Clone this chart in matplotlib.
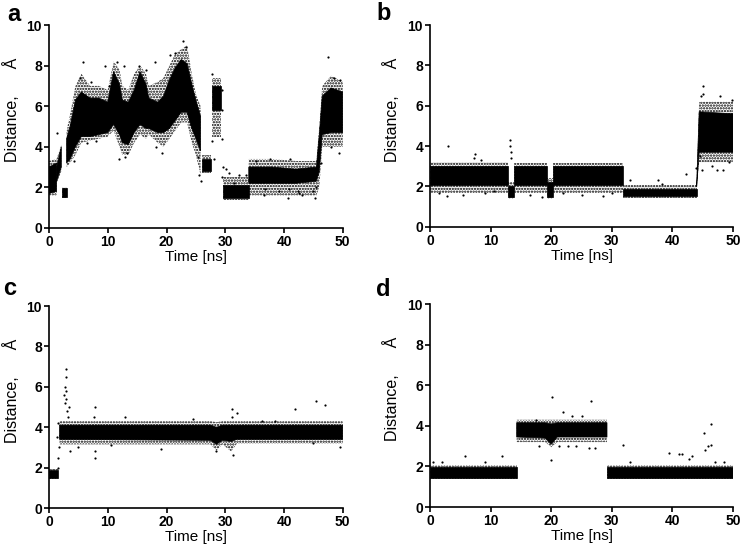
import matplotlib.pyplot as plt
import numpy as np

plt.rcParams["font.family"] = ["Liberation Sans", "DejaVu Sans"]
plt.rcParams["hatch.linewidth"] = 1.1

nan = np.nan

# time [ns] with the outer reach (sparse points) and the dense core of each cloud
a_t = [0.0, 1.3, nan, 1.3, 2.1, nan, 2.3, 3.0, nan, 3.0, 3.6, 4.5, 5.5, 7.0, 8.5, 10.0, 11.0, 12.0, 12.5, 13.5,
       14.5, 15.5, 16.5, 17.0, 18.5, 19.5, 20.5, 21.5, 22.5, 23.5, 24.3, 25.0, 25.8, nan, 26.0, 27.5, nan,
       27.8, 29.2, nan, 29.6, 34.0, nan, 34.0, 38.0, 42.0, 45.5, 46.0, 46.5, 48.0, 50.0]
a_out_lo = [1.6, 1.6, nan, 2.2, 2.8, nan, 1.5, 1.5, nan, 3.0, 3.2, 3.6, 4.2, 4.3, 4.4, 4.5, 4.8, 4.0, 3.6, 3.6,
            4.2, 4.6, 4.4, 4.6, 4.2, 4.0, 4.4, 4.8, 5.2, 5.2, 4.2, 3.6, 2.6, nan, 2.7, 2.7, nan,
            4.5, 4.5, nan, 1.4, 1.4, nan, 1.6, 1.6, 1.6, 1.6, 2.0, 4.0, 4.0, 4.0]
a_lo = [1.7, 1.8, nan, 2.3, 3.0, nan, 1.55, 1.55, nan, 3.2, 3.4, 4.0, 4.5, 4.5, 4.6, 4.7, 5.1, 4.6, 4.2, 4.1,
        4.7, 5.1, 4.9, 4.9, 4.7, 4.7, 4.9, 5.3, 5.7, 5.7, 4.9, 4.4, 3.8, nan, 2.8, 2.8, nan,
        5.8, 5.8, nan, 1.5, 1.5, nan, 2.2, 2.2, 2.2, 2.3, 2.8, 4.6, 4.7, 4.7]
a_hi = [3.0, 3.2, nan, 3.0, 4.0, nan, 1.95, 1.95, nan, 4.4, 5.0, 6.3, 6.7, 6.4, 6.4, 6.2, 7.7, 7.1, 6.3, 6.2,
        6.8, 7.7, 7.1, 6.4, 6.2, 6.5, 7.3, 7.9, 8.3, 8.1, 7.1, 6.3, 5.5, nan, 3.4, 3.4, nan,
        7.0, 7.0, nan, 2.1, 2.1, nan, 3.0, 3.0, 2.9, 3.0, 4.6, 6.5, 6.9, 6.7]
a_out_hi = [3.3, 3.4, nan, 3.4, 4.1, nan, 2.0, 2.0, nan, 4.8, 5.6, 7.0, 7.6, 7.0, 7.0, 6.8, 8.2, 7.8, 7.0, 6.8,
            7.6, 8.0, 7.6, 7.0, 7.2, 7.4, 8.0, 8.6, 8.8, 9.0, 7.6, 6.6, 6.0, nan, 3.6, 3.6, nan,
            7.4, 7.4, nan, 2.5, 2.5, nan, 3.4, 3.4, 3.3, 3.3, 5.0, 7.0, 7.5, 7.2]

b_t = [0.0, 12.8, nan, 12.8, 13.8, nan, 13.8, 19.3, nan, 19.3, 20.3, nan, 20.3, 31.9, nan, 31.9, 44.0, nan,
       44.0, 44.4, 50.0]
b_out_lo = [1.7, 1.7, nan, 1.4, 1.4, nan, 1.7, 1.7, nan, 1.4, 1.4, nan, 1.7, 1.7, nan, 1.45, 1.45, nan,
            1.9, 3.2, 3.2]
b_lo = [2.05, 2.05, nan, 1.5, 1.5, nan, 2.05, 2.05, nan, 1.5, 1.5, nan, 2.05, 2.05, nan, 1.55, 1.55, nan,
        2.0, 3.7, 3.7]
b_hi = [3.0, 3.0, nan, 2.0, 2.0, nan, 3.0, 3.0, nan, 2.2, 2.2, nan, 3.0, 3.0, nan, 1.9, 1.9, nan,
        2.2, 5.7, 5.6]
b_out_hi = [3.2, 3.2, nan, 2.2, 2.2, nan, 3.15, 3.15, nan, 2.4, 2.4, nan, 3.15, 3.15, nan, 2.05, 2.05, nan,
            2.4, 6.2, 6.2]

c_t = [0.0, 1.5, nan, 1.8, 27.5, 28.5, 29.5, 31.0, 32.0, 50.0]
c_out_lo = [1.45, 1.45, nan, 3.15, 3.15, 2.85, 3.15, 2.8, 3.2, 3.2]
c_lo = [1.5, 1.5, nan, 3.4, 3.35, 3.15, 3.35, 3.3, 3.4, 3.4]
c_hi = [1.9, 1.9, nan, 4.1, 4.1, 4.0, 4.1, 4.1, 4.1, 4.1]
c_out_hi = [1.95, 1.95, nan, 4.3, 4.3, 4.25, 4.3, 4.3, 4.3, 4.3]

d_t = [0.0, 14.3, nan, 14.3, 19.0, 20.0, 21.0, 29.2, nan, 29.2, 50.0]
d_out_lo = [1.4, 1.4, nan, 3.2, 3.2, 2.95, 3.2, 3.2, nan, 1.4, 1.4]
d_lo = [1.45, 1.45, nan, 3.45, 3.4, 3.1, 3.45, 3.45, nan, 1.45, 1.45]
d_hi = [1.95, 1.95, nan, 4.15, 4.15, 4.1, 4.15, 4.15, nan, 1.95, 1.95]
d_out_hi = [2.05, 2.05, nan, 4.3, 4.3, 4.3, 4.3, 4.3, nan, 2.05, 2.05]

# single points far outside the clouds
a_pt_t = [1.3, 5.2, 5.8, 7.2, 9.6, 3.3, 4.2, 6.5, 8.0, 10.2, 11.5, 12.0, 12.8, 13.3, 13.0, 15.3, 16.5, 18.0,
          18.2, 19.3, 20.6, 21.5, 22.8, 23.3, 24.8, 25.3, 25.5, 25.9, 27.8, 27.7, 28.0, 29.5, 29.5, 29.4, 29.6,
          29.5, 30.2, 30.7, 31.5, 32.4, 33.5, 35.2, 36.6, 37.6, 39.2, 40.6, 41.0, 42.3, 43.0, 45.3, 45.5, 47.5,
          48.5, 49.5, 48.0, 49.4, 46.3, 40.8, 42.6, 44.9, 36.8]
a_pt_y = [4.7, 7.4, 8.2, 7.2, 8.0, 3.4, 3.3, 4.2, 4.3, 7.0, 8.2, 3.4, 8.0, 3.7, 3.5, 8.0, 7.8, 8.2,
          4.0, 3.7, 8.5, 8.6, 9.2, 8.9, 5.2, 3.5, 2.6, 2.3, 7.6, 4.3, 3.4, 6.8, 5.8, 4.4, 3.0,
          2.5, 2.9, 2.7, 2.2, 2.6, 2.6, 3.3, 1.6, 3.4, 1.8, 1.5, 3.4, 1.8, 1.6, 1.5, 2.0, 8.4,
          7.4, 7.3, 4.0, 3.7, 3.2, 1.9, 1.7, 1.8, 1.9]

b_pt_t = [3.0, 7.5, 7.3, 8.4, 13.2, 13.2, 13.3, 13.3, 2.8, 1.5, 5.5, 9.0, 10.5, 16.5, 18.5, 22.0, 25.0, 28.5,
          30.0, 33.0, 37.6, 38.2, 42.3, 43.8, 44.5, 44.8, 45.0, 44.7, 45.0, 47.8, 49.8, 47.3, 48.3, 46.5, 49.3]
b_pt_y = [4.0, 3.6, 3.4, 3.3, 4.3, 4.0, 3.7, 3.4, 1.55, 1.7, 1.6, 1.7, 1.8, 1.6, 1.5, 1.7, 1.6, 1.55,
          1.7, 2.3, 2.3, 2.1, 2.6, 2.9, 3.5, 2.8, 7.0, 6.5, 6.6, 6.5, 6.3, 2.8, 2.8, 3.0, 3.2]

c_pt_t = [2.6, 2.7, 2.8, 2.9, 2.85, 2.9, 2.95, 3.0, 3.4, 3.3, 1.5, 1.6, 1.7, 1.3, 1.5, 1.8, 7.9, 7.7, 7.9, 7.9,
          3.5, 13.0, 19.0, 31.2, 31.2, 31.3, 32.0, 28.5, 41.8, 45.4, 46.9, 38.5, 45.0, 49.5, 24.5, 36.2, 10.5, 5.0]
c_pt_y = [5.6, 5.2, 6.0, 6.9, 6.5, 5.8, 5.4, 4.8, 5.0, 4.5, 2.0, 2.5, 3.0, 3.5, 4.2, 3.6, 5.0, 4.5, 2.5, 2.8,
          2.8, 4.5, 2.9, 4.9, 4.5, 2.6, 4.7, 2.8, 4.9, 5.3, 5.1, 4.3, 3.2, 3.0, 4.4, 4.3, 3.1, 3.0]

d_pt_t = [20.1, 26.5, 20.0, 22.0, 25.0, 31.8, 39.5, 41.0, 41.5, 43.2, 45.2, 45.3, 45.8, 46.3, 46.4, 42.8,
          0.5, 5.8, 11.8, 2.0, 9.0, 33.0, 47.0, 48.5, 18.0, 26.2, 24.1, 27.3, 17.5, 23.5, 21.3, 22.7]
d_pt_y = [5.4, 5.2, 2.3, 4.7, 4.5, 3.05, 2.65, 2.6, 2.6, 2.5, 3.65, 2.8, 3.0, 4.1, 3.05, 2.35,
          2.2, 2.5, 2.5, 2.2, 2.2, 2.2, 2.2, 2.2, 3.0, 2.9, 3.0, 2.9, 4.3, 4.5, 3.0, 3.0]

panels = [
    ("a", [0.066, 0.590, 0.396, 0.365], (0.0094, 0.962), a_t, a_out_lo, a_lo, a_hi, a_out_hi, a_pt_t, a_pt_y),
    ("b", [0.5795, 0.592, 0.4085, 0.363], (0.507, 0.964), b_t, b_out_lo, b_lo, b_hi, b_out_hi, b_pt_t, b_pt_y),
    ("c", [0.066, 0.0863, 0.396, 0.3633], (0.004, 0.469), c_t, c_out_lo, c_lo, c_hi, c_out_hi, c_pt_t, c_pt_y),
    ("d", [0.5795, 0.088, 0.4085, 0.3652], (0.507, 0.467), d_t, d_out_lo, d_lo, d_hi, d_out_hi, d_pt_t, d_pt_y),
]

fig = plt.figure(figsize=(7.42, 5.56), dpi=100)

for letter, rect, lpos, t, out_lo, lo, hi, out_hi, pt_t, pt_y in panels:
    ax = fig.add_axes(rect)
    # sparse halo as a dot texture, dense core solid
    ax.fill_between(t, out_lo, out_hi, facecolor="none", edgecolor="black", hatch="......", lw=0)
    ax.fill_between(t, lo, hi, color="black", lw=0.5)
    ax.scatter(pt_t, pt_y, s=2.5, color="black", lw=0)

    ax.set_xlim(0, 50)
    ax.set_ylim(0, 10)
    ax.set_xticks([0, 10, 20, 30, 40, 50])
    ax.set_yticks([0, 2, 4, 6, 8, 10])
    for side in ["top", "right"]:
        ax.spines[side].set_visible(False)
    for side in ["left", "bottom"]:
        ax.spines[side].set_linewidth(1.2)
    ax.tick_params(width=1.2, length=3.5, labelsize=10, pad=1.5)
    for lab in ax.get_xticklabels() + ax.get_yticklabels():
        lab.set_fontweight("bold")
    ax.set_xlabel("Time [ns]", fontsize=11, labelpad=1)
    ax.set_ylabel("Distance,      Å", fontsize=11.5, labelpad=3)
    ax.yaxis.set_label_coords(-0.098, 0.58)
    fig.text(lpos[0], lpos[1], letter, fontsize=17, fontweight="bold", va="baseline", ha="left")

fig.savefig("out.png", dpi=100)
